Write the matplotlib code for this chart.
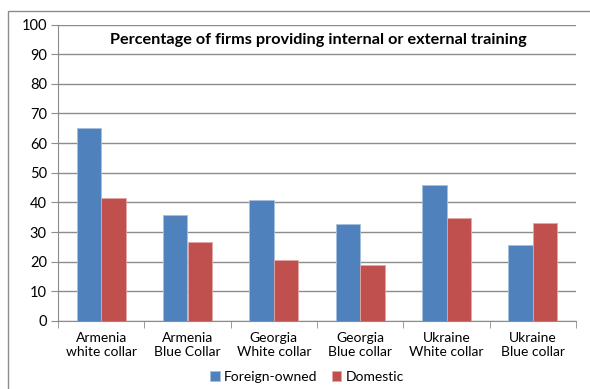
import matplotlib
matplotlib.use("Agg")
import matplotlib.pyplot as plt
import numpy as np
from matplotlib.patches import Rectangle

categories = ["Armenia\nwhite collar", "Armenia\nBlue Collar", "Georgia\nWhite collar",
              "Georgia\nBlue collar", "Ukraine\nWhite collar", "Ukraine\nBlue collar"]
foreign = [65, 35.7, 40.9, 32.7, 46, 25.6]
domestic = [41.6, 26.8, 20.6, 18.8, 34.8, 32.9]
series_names = ["Foreign-owned", "Domestic"]
title = "Percentage of firms providing internal or external training"

plt.rcParams['font.family'] = ['Lato', 'DejaVu Sans']

fig = plt.figure(figsize=(5.9, 3.89), dpi=100)
ax = fig.add_axes([58/590, 1-321/389, (576-58)/590, (321-24.5)/389])

x = np.arange(len(categories))
w = 0.285
ax.bar(x - w/2, foreign, w, color="#4F81BD", edgecolor="#A7C0DE", linewidth=0.6,
       label=series_names[0], zorder=3)
ax.bar(x + w/2, domestic, w, color="#C0504D", edgecolor="#E0A8A6", linewidth=0.6,
       label=series_names[1], zorder=3)

ax.set_xlim(-0.5, len(categories) - 0.5)
ax.set_ylim(0, 100)
ax.set_yticks(np.arange(0, 101, 10))
ax.yaxis.grid(True, color="#8C8C8C", linewidth=1, zorder=0)
ax.set_axisbelow(True)

ax.set_xticks(x)
ax.set_xticklabels(categories, fontsize=10, linespacing=1.15)
ax.set_xticks(np.arange(-0.5, len(categories)), minor=True)
ax.tick_params(axis='x', which='major', length=0, pad=8)
ax.tick_params(axis='x', which='minor', length=5, color="#8C8C8C", direction='out')
ax.tick_params(axis='y', length=5, color="#8C8C8C", labelsize=10.5, pad=3)

for s in ['top', 'right']:
    ax.spines[s].set_visible(False)
for s in ['left', 'bottom']:
    ax.spines[s].set_color("#8C8C8C")

ax.text(0.502, 0.947, title, transform=ax.transAxes, ha='center', va='center',
        fontsize=11.7, fontweight='bold')

leg = fig.legend(loc='center', bbox_to_anchor=(307/590, 1-377/389), ncol=2, frameon=False,
                 fontsize=10, handlelength=0.7, handleheight=0.7, handletextpad=0.3,
                 columnspacing=1.0)

fig.patches.append(Rectangle((8/590, -0.05), 1.0, 1-11/389+0.05, transform=fig.transFigure,
                             fill=False, edgecolor="#8C8C8C", linewidth=1))

fig.savefig("out.png", dpi=100)
